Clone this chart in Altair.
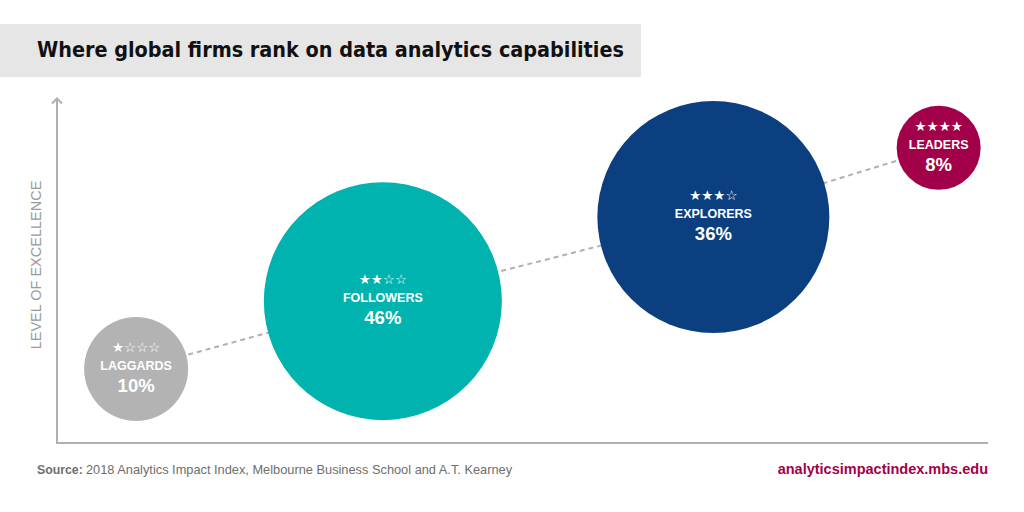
import altair as alt
import pandas as pd

# ---- data ----
segments = ["LAGGARDS", "FOLLOWERS", "EXPLORERS", "LEADERS"]
stars = ["★☆☆☆", "★★☆☆", "★★★☆", "★★★★"]
share = [10, 46, 36, 8]                      # % of firms
capability = [8.5, 35.0, 70.5, 94.7]         # horizontal position, 0-100
excellence = [21.4, 41.0, 65.3, 85.3]        # level of excellence, 0-100

colors = ["#b3b3b3", "#00b3ae", "#0b3f7f", "#a3004a"]
diam = {"LAGGARDS": 104, "FOLLOWERS": 238, "EXPLORERS": 232, "LEADERS": 84}  # drawn bubble diameters (style)

df = pd.DataFrame({
    "segment": segments,
    "stars": stars,
    "share": share,
    "pct": [f"{s}%" for s in share],
    "capability": capability,
    "excellence": excellence,
    "order": list(range(len(segments))),
})

W, H = 1024, 512
xs = alt.Scale(domain=[0, 100], range=[57, 988])
ys = alt.Scale(domain=[0, 100], range=[443, 97])
X = alt.X("capability:Q", scale=xs, axis=None)
Y = alt.Y("excellence:Q", scale=ys, axis=None)

one = alt.Data(values=[{}])

title_box = alt.Chart(one).mark_rect(color="#e6e6e6").encode(
    x=alt.value(0), x2=alt.value(641), y=alt.value(24), y2=alt.value(77))
title = alt.Chart(one).mark_text(
    text="Where global firms rank on data analytics capabilities",
    align="left", baseline="middle", font="DejaVu Sans Condensed, sans-serif",
    fontWeight="bold", fontSize=21.4, color="#111111").encode(x=alt.value(37), y=alt.value(51))

yaxis = alt.Chart(one).mark_rule(color="#b0b0b0", strokeWidth=2).encode(
    x=alt.value(57), y=alt.value(98), y2=alt.value(443))
xaxis = alt.Chart(one).mark_rule(color="#b0b0b0", strokeWidth=2).encode(
    x=alt.value(56), x2=alt.value(988), y=alt.value(443))
arrow = alt.Chart(one).mark_point(
    shape="M-1,0.5L0,-0.5L1,0.5", filled=False, color="#b0b0b0", strokeWidth=2, size=100, opacity=1
).encode(x=alt.value(57), y=alt.value(101))
ylabel = alt.Chart(one).mark_text(
    text="LEVEL OF EXCELLENCE", angle=270, align="center", baseline="middle",
    font="Liberation Sans", fontSize=14.5, color="#9a9a9a").encode(x=alt.value(37), y=alt.value(265))

size_expr = " : ".join(f"datum.segment == '{k}' ? {v * v}" for k, v in diam.items()) + " : 100"

base = alt.Chart(df)
line = base.mark_line(color="#b0b0b0", strokeWidth=2, strokeDash=[5, 4]).encode(
    x=X, y=Y, order="order:Q")
circles = base.transform_calculate(sz=size_expr).mark_circle(opacity=1).encode(
    x=X, y=Y,
    size=alt.Size("sz:Q", scale=None, legend=None),
    color=alt.Color("segment:N", scale=alt.Scale(domain=segments, range=colors), legend=None),
)
star_txt = base.mark_text(font="DejaVu Sans", fontSize=13.5, color="white", dy=-21, baseline="middle").encode(
    x=X, y=Y, text="stars:N")
name_txt = base.mark_text(font="Liberation Sans", fontWeight="bold", fontSize=12.5, color="white", dy=-3,
                          baseline="middle").encode(x=X, y=Y, text="segment:N")
pct_txt = base.mark_text(font="Liberation Sans", fontWeight="bold", fontSize=18.5, color="white", dy=17,
                         baseline="middle").encode(x=X, y=Y, text="pct:N")

src_b = alt.Chart(one).mark_text(text="Source:", align="left", baseline="middle", font="Liberation Sans",
                                 fontWeight="bold", fontSize=12.3, color="#6e6e6e").encode(
    x=alt.value(37), y=alt.value(470))
src = alt.Chart(one).mark_text(
    text="2018 Analytics Impact Index, Melbourne Business School and A.T. Kearney",
    align="left", baseline="middle", font="Liberation Sans", fontSize=12.8, color="#6e6e6e").encode(
    x=alt.value(86), y=alt.value(470))
url = alt.Chart(one).mark_text(
    text="analyticsimpactindex.mbs.edu", align="right", baseline="middle", font="Liberation Sans",
    fontWeight="bold", fontSize=14.5, color="#a3004a").encode(x=alt.value(988), y=alt.value(470))

chart = alt.layer(
    title_box, title, yaxis, xaxis, arrow, ylabel, line, circles, star_txt, name_txt, pct_txt, src_b, src, url
).properties(
    width=W, height=H, padding=0, autosize=alt.AutoSizeParams(type="none"), background="white"
).configure_view(stroke=None)

chart.save("out.html", embed_options={"renderer": "svg", "actions": False})
